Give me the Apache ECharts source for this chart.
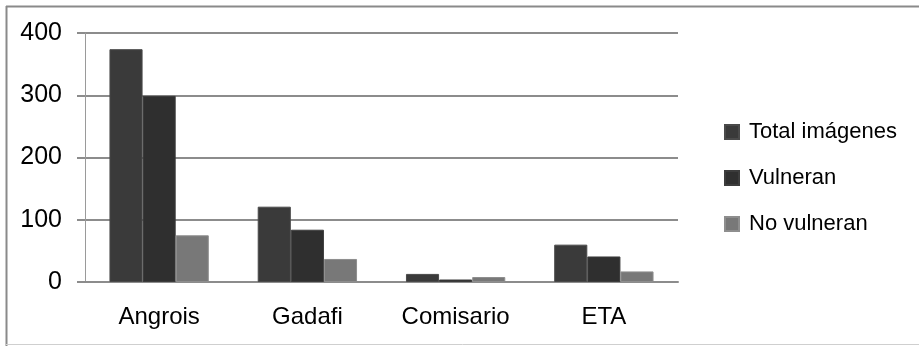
<!DOCTYPE html>
<html>
<head>
<meta charset="utf-8">
<script src="https://cdn.jsdelivr.net/npm/echarts@6/dist/echarts.min.js"></script>
<style>
  html, body { margin: 0; padding: 0; background: #fff; }
  #chart { width: 919px; height: 346px; }
</style>
</head>
<body>
<div id="chart"></div>
<script>
// Image counts per case
const categories = ['Angrois', 'Gadafi', 'Comisario', 'ETA'];
const totalImagenes = [374, 121, 13, 60];
const vulneran = [299, 84, 4, 41];
const noVulneran = [75, 37, 8, 17];
const yTicks = [0, 100, 200, 300, 400];

const FONT = '"Liberation Sans", Arial, sans-serif';
const chart = echarts.init(document.getElementById('chart'));

chart.setOption({
  animation: false,
  backgroundColor: '#ffffff',
  graphic: [
    { type: 'line', shape: { x1: 6.5, y1: 6, x2: 6.5, y2: 346 }, style: { stroke: '#8a8a8a', lineWidth: 2 } },
    { type: 'line', shape: { x1: 6, y1: 6.5, x2: 919, y2: 6.5 }, style: { stroke: '#8a8a8a', lineWidth: 2 } },
    { type: 'line', shape: { x1: 6, y1: 344.5, x2: 919, y2: 344.5 }, style: { stroke: '#cfcfcf', lineWidth: 1 } }
  ],
  grid: { left: 85, right: 241, top: 33, bottom: 64 },
  legend: {
    orient: 'vertical',
    left: 719,
    top: 116,
    itemWidth: 14,
    itemHeight: 14,
    itemGap: 24,
    icon: 'rect',
    textStyle: { fontFamily: FONT, fontSize: 22, color: '#000', lineHeight: 22, padding: [0, 0, 0, 5] },
    data: ['Total imágenes', 'Vulneran', 'No vulneran']
  },
  xAxis: {
    type: 'category',
    data: categories,
    axisLine: { lineStyle: { color: '#8c8c8c', width: 2 } },
    axisTick: { length: 7, lineStyle: { color: '#8c8c8c', width: 2 } },
    axisLabel: { fontFamily: FONT, fontSize: 24, color: '#000', margin: 23 }
  },
  yAxis: {
    type: 'value',
    min: yTicks[0],
    max: yTicks[yTicks.length - 1],
    interval: 100,
    axisLine: { show: true, lineStyle: { color: '#9a9a9a', width: 1 } },
    axisTick: { show: true, length: 8, lineStyle: { color: '#8c8c8c', width: 2 } },
    splitLine: { lineStyle: { color: '#8c8c8c', width: 2 } },
    axisLabel: { fontFamily: FONT, fontSize: 25, color: '#000', margin: 23 }
  },
  series: [
    {
      name: 'Total imágenes', type: 'bar', data: totalImagenes,
      barGap: '0%', barCategoryGap: '33%',
      itemStyle: { color: '#3a3a3a', borderColor: '#4a4a4a', borderWidth: 1 }
    },
    {
      name: 'Vulneran', type: 'bar', data: vulneran,
      itemStyle: { color: '#2f2f2f', borderColor: '#3c3c3c', borderWidth: 1 }
    },
    {
      name: 'No vulneran', type: 'bar', data: noVulneran,
      itemStyle: { color: '#787878', borderColor: '#8e8e8e', borderWidth: 1 }
    }
  ]
});
</script>
</body>
</html>
